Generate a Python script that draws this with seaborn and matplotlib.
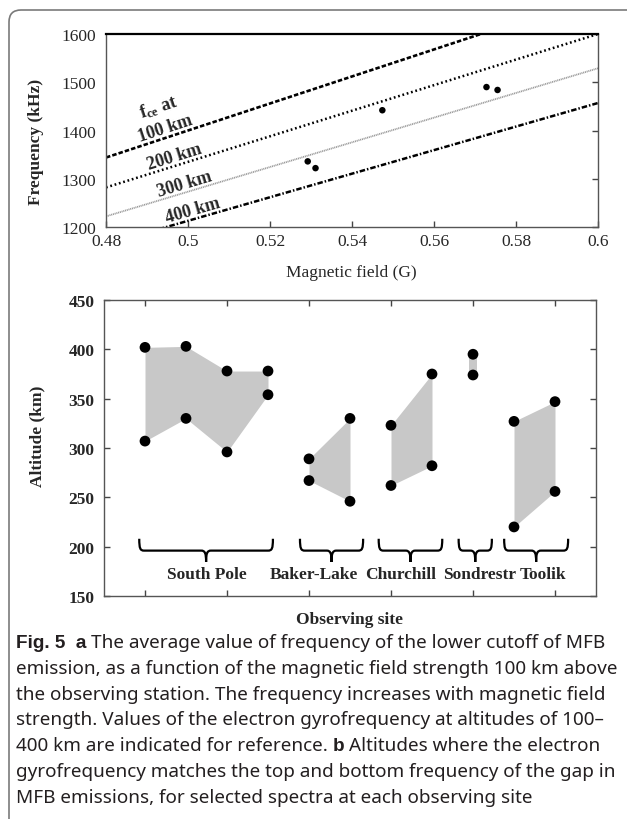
import numpy as np
import pandas as pd
import matplotlib
matplotlib.use("Agg")
import matplotlib.pyplot as plt
import seaborn as sns
from matplotlib.path import Path
from matplotlib.patches import PathPatch, FancyBboxPatch

# ---------------- data: panel a ----------------
altitude_labels = ["100 km", "200 km", "300 km", "400 km"]
line_B = [0.48, 0.60]                 # magnetic field (G) at the line ends
fce_100 = [1344, 1680]                # kHz
fce_200 = [1282, 1600]
fce_300 = [1222, 1529]
fce_400 = [1164, 1457]
station_B = [0.5292, 0.5311, 0.5474, 0.5728, 0.5755]
cutoff_kHz = [1336, 1322, 1442, 1490, 1484]
xticks_a = [0.48, 0.50, 0.52, 0.54, 0.56, 0.58, 0.60]
xticklabels_a = ["0.48", "0.5", "0.52", "0.54", "0.56", "0.58", "0.6"]
yticks_a = [1200, 1300, 1400, 1500, 1600]

# ---------------- data: panel b ----------------
sites = ["South Pole", "Baker-Lake", "Churchill", "Sondrestr", "Toolik"]
top_alt = [[402, 403, 378, 378], [289, 330], [323, 375], [395], [327, 347]]
bottom_alt = [[307, 330, 296, 354], [267, 246], [262, 282], [374], [220, 256]]
yticks_b = [150, 200, 250, 300, 350, 400, 450]

caption_lines = [
    [("Fig. 5  a", "bold"), (" The average value of frequency of the lower cutoff of MFB", "normal")],
    [("emission, as a function of the magnetic field strength 100 km above", "normal")],
    [("the observing station. The frequency increases with magnetic field", "normal")],
    [("strength. Values of the electron gyrofrequency at altitudes of 100\u2013", "normal")],
    [("400 km are indicated for reference. ", "normal"), ("b", "bold"), (" Altitudes where the electron", "normal")],
    [("gyrofrequency matches the top and bottom frequency of the gap in", "normal")],
    [("MFB emissions, for selected spectra at each observing site", "normal")],
]

# ---------------- style ----------------
sns.set_style("white")
plt.rcParams["font.family"] = ["Liberation Serif", "DejaVu Serif"]
plt.rcParams["mathtext.fontset"] = "custom"
plt.rcParams["mathtext.rm"] = "Liberation Serif"
plt.rcParams["mathtext.bf"] = "Liberation Serif:bold"
plt.rcParams["mathtext.it"] = "Liberation Serif:italic"

W, H = 627, 820
fig = plt.figure(figsize=(W / 100, H / 100), dpi=100)

def px_axes(l, t, r, b):
    return fig.add_axes([l / W, 1 - b / H, (r - l) / W, (b - t) / H])

# border
border = FancyBboxPatch((9 / 100, -0.2), (W + 40) / 100, (H - 11) / 100 + 0.2,
                        boxstyle="round,pad=0,rounding_size=0.12",
                        transform=fig.dpi_scale_trans, fc="none", ec="#7a7a7a", lw=1.2,
                        clip_on=False)
fig.patches.append(border)

# ---------------- panel a ----------------
ax1 = px_axes(106, 35, 598, 228)
ax1.set_xlim(0.48, 0.60)
ax1.set_ylim(1200, 1600)

line_styles = [
    dict(color="black", lw=1.9, linestyle=(0, (1.7, 0.8))),
    dict(color="black", lw=1.8, linestyle=(0, (0.7, 1.1))),
    dict(color="#9a9a9a", lw=1.3, linestyle=(0, (0.6, 0.4))),
    dict(color="black", lw=1.8, linestyle=(0, (2.2, 0.8, 0.6, 0.8))),
]
for vals, st in zip([fce_100, fce_200, fce_300, fce_400], line_styles):
    sns.lineplot(x=line_B, y=vals, ax=ax1, **st)

sns.scatterplot(x=station_B, y=cutoff_kHz, ax=ax1, color="black", s=22,
                edgecolor="none", zorder=5)

fig.canvas.draw()

def screen_angle(ax, xs, ys):
    p = ax.transData.transform(np.column_stack([xs, ys]))
    return np.degrees(np.arctan2(p[1, 1] - p[0, 1], p[1, 0] - p[0, 0]))

label_pos = [(0.4944, 1406), (0.4968, 1347), (0.4991, 1291), (0.5012, 1235)]
for (bx, fy), lab, vals in zip(label_pos, altitude_labels, [fce_100, fce_200, fce_300, fce_400]):
    ang = screen_angle(ax1, line_B, vals)
    ax1.text(bx, fy, lab, rotation=ang, rotation_mode="anchor", ha="center", va="center",
             fontsize=13, fontweight="bold")
ang0 = screen_angle(ax1, line_B, fce_100)
ax1.text(0.4927, 1449, r"f$_{\mathbf{ce}}$ at", rotation=ang0, rotation_mode="anchor",
         ha="center", va="center", fontsize=13, fontweight="bold")

ax1.set_xticks(xticks_a)
ax1.set_xticklabels(xticklabels_a)
ax1.set_yticks(yticks_a)
ax1.tick_params(axis="both", direction="in", length=4, width=1, color="#444",
                labelsize=12.5, pad=4)
ax1.tick_params(axis="y", right=True, pad=7)
ax1.tick_params(axis="x", top=False, bottom=True)
for s in ax1.spines.values():
    s.set_color("#555")
    s.set_linewidth(1.0)
ax1.spines["top"].set_color("black")
ax1.spines["top"].set_linewidth(1.6)
ax1.set_xlabel("Magnetic field (G)", fontsize=12.5)
ax1.set_ylabel("Frequency (kHz)", fontsize=12.5, fontweight="bold")
ax1.xaxis.set_label_coords(0.499, -0.19)
ax1.yaxis.set_label_coords(-0.126, 0.446)

# ---------------- panel b ----------------
ax2 = px_axes(104, 301, 596, 597)
ax2.set_xlim(0, 12)
ax2.set_ylim(150, 450)

rows = []
pos = 1
for site, tops, bots in zip(sites, top_alt, bottom_alt):
    for t, b in zip(tops, bots):
        rows.append(dict(site=site, x=pos, top=t, bottom=b))
        pos += 1
df = pd.DataFrame(rows)

fill_c = "#c8c8c8"
for site in sites:
    g = df[df.site == site]
    xs = g.x.to_numpy(dtype=float)
    if len(xs) == 1:
        ax2.fill_between([xs[0] - 0.09, xs[0] + 0.09], [g.bottom.iloc[0]] * 2,
                         [g.top.iloc[0]] * 2, color=fill_c, lw=0, zorder=1)
    else:
        ax2.fill_between(xs, g.bottom.to_numpy(), g.top.to_numpy(), color=fill_c, lw=0, zorder=1)

long = pd.concat([df[["x", "top"]].rename(columns={"top": "alt"}),
                  df[["x", "bottom"]].rename(columns={"bottom": "alt"})])
sns.scatterplot(data=long, x="x", y="alt", ax=ax2, color="black", s=60,
                edgecolor="none", zorder=5)

# braces under each site
brace_pad = [(0.14, 0.12), (0.22, 0.32), (0.30, 0.25), (0.35, 0.46), (0.24, 0.32)]
label_x = [2.50, 5.12, 7.23, 9.15, 10.70]
y_top, y_bar, y_tip = 208, 196, 184.5
r = 0.12
for site, (pl, pr), lx in zip(sites, brace_pad, label_x):
    g = df[df.site == site]
    x0 = g.x.min() - pl
    x1 = g.x.max() + pr
    xc = (x0 + x1) / 2
    verts = [
        (x0, y_top),
        (x0, y_bar + 2), (x0 + r * 0.2, y_bar), (x0 + r, y_bar),
        (xc - r, y_bar),
        (xc - r * 0.2, y_bar), (xc, y_bar - 3), (xc, y_tip),
        (xc, y_bar - 3), (xc + r * 0.2, y_bar), (xc + r, y_bar),
        (x1 - r, y_bar),
        (x1 - r * 0.2, y_bar), (x1, y_bar + 2), (x1, y_top),
    ]
    codes = [Path.MOVETO,
             Path.CURVE4, Path.CURVE4, Path.CURVE4,
             Path.LINETO,
             Path.CURVE4, Path.CURVE4, Path.CURVE4,
             Path.CURVE4, Path.CURVE4, Path.CURVE4,
             Path.LINETO,
             Path.CURVE4, Path.CURVE4, Path.CURVE4]
    ax2.add_patch(PathPatch(Path(verts, codes), fc="none", ec="black", lw=1.6))
    ax2.text(lx, 172, site, ha="center", va="center", fontsize=12.5, fontweight="bold")

ax2.set_xticks([1, 3, 5, 7, 9, 11])
ax2.set_xticklabels([])
ax2.set_yticks(yticks_b)
ax2.tick_params(axis="both", direction="in", length=4, width=1, color="#444",
                labelsize=12.5, pad=7)
ax2.tick_params(axis="x", top=True, bottom=True)
ax2.tick_params(axis="y", left=True, right=True)
for lab in ax2.get_yticklabels():
    lab.set_fontweight("bold")
for s in ax2.spines.values():
    s.set_color("#555")
    s.set_linewidth(1.0)
ax2.set_xlabel("Observing site", fontsize=12.5, fontweight="bold")
ax2.set_ylabel("Altitude (km)", fontsize=12.5, fontweight="bold")
ax2.xaxis.set_label_coords(0.5, -0.05)
ax2.yaxis.set_label_coords(-0.12, 0.544)

# ---------------- caption ----------------
renderer = fig.canvas.get_renderer()
cap_family = {"normal": ["Noto Sans", "DejaVu Sans"],
              "bold": ["Liberation Sans", "DejaVu Sans"]}
cap_color = "#231f20"

def text_width(s, size, weight):
    t = fig.text(0, 0, s, fontsize=size, fontweight=weight, family=cap_family[weight])
    w = t.get_window_extent(renderer).width
    t.remove()
    return w

base = 11.0
w2 = text_width(caption_lines[1][0][0], base, "normal")
cap_size = base * 602.0 / w2

space_w = {wt: text_width("x x", cap_size, wt) - text_width("xx", cap_size, wt)
           for wt in ["normal", "bold"]}

baseline0 = 648
line_gap = 25.8
for i, runs in enumerate(caption_lines):
    xpx = 16.0
    ypx = baseline0 + i * line_gap
    for txt, wt in runs:
        lead = len(txt) - len(txt.lstrip(" "))
        xpx += lead * space_w[wt]
        core = txt.strip(" ")
        fig.text(xpx / W, 1 - ypx / H, core, fontsize=cap_size, fontweight=wt,
                 family=cap_family[wt], color=cap_color, va="baseline", ha="left")
        xpx += text_width(core, cap_size, wt)
        trail = len(txt) - len(txt.rstrip(" "))
        xpx += trail * space_w[wt]

fig.savefig("out.png", dpi=100)
